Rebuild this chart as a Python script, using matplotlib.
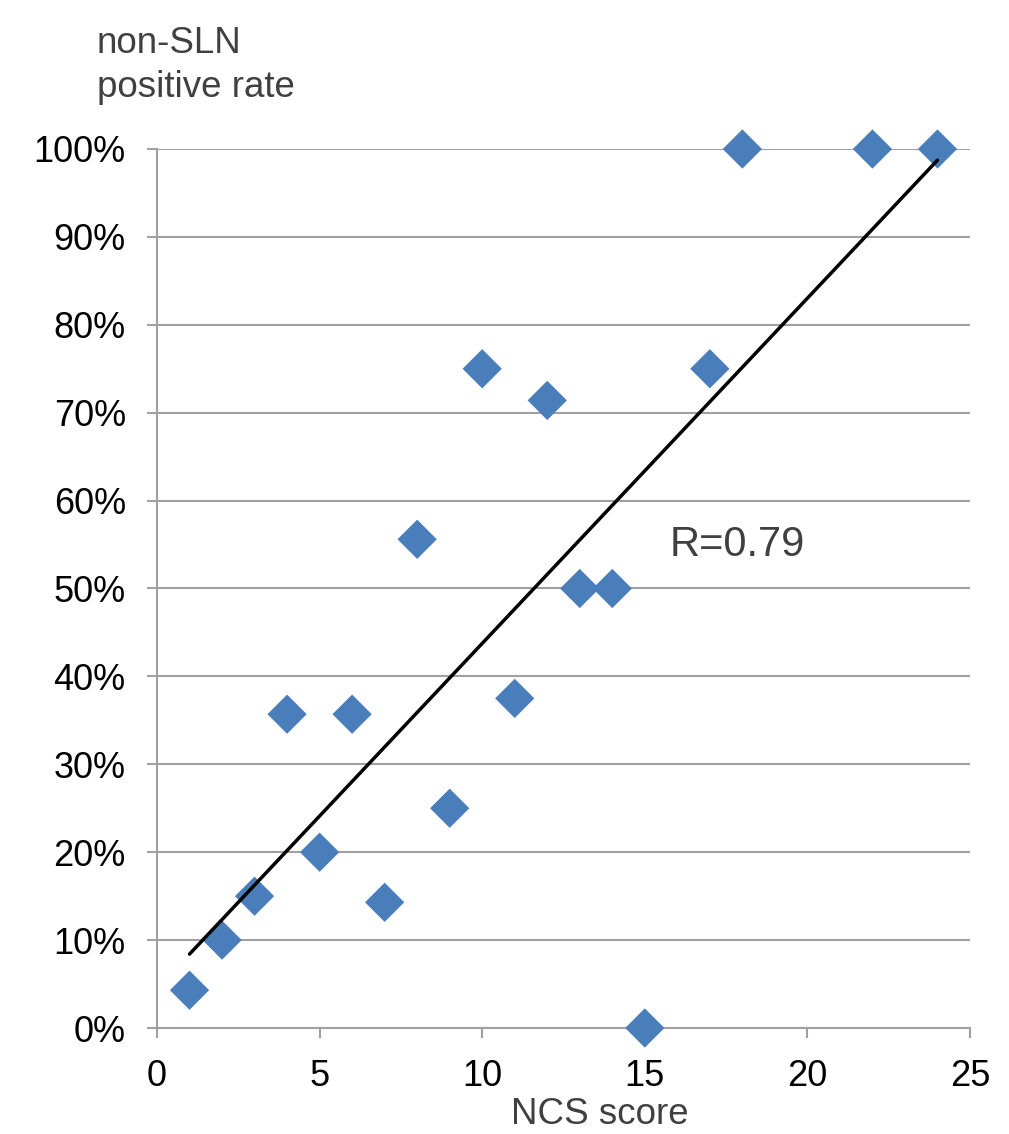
import numpy as np
import matplotlib
matplotlib.use("Agg")
import matplotlib.pyplot as plt
from matplotlib.ticker import FuncFormatter, MultipleLocator

plt.rcParams['font.family'] = ['Liberation Sans', 'DejaVu Sans']

ncs_score = [1, 2, 3, 4, 5, 6, 7, 8, 9, 10, 11, 12, 13, 14, 15, 17, 18, 22, 24]
positive_rate = [0.043, 0.10, 0.15, 0.357, 0.20, 0.357, 0.143, 0.556, 0.25, 0.75,
                 0.375, 0.714, 0.50, 0.50, 0.0, 0.75, 1.0, 1.0, 1.0]
r_text = "R=0.79"
ylabel_lines = ["non-SLN", "positive rate"]
xlabel = "NCS score"

fig = plt.figure(figsize=(10.09, 11.34), dpi=100)
W, H = 1009, 1134
ax = fig.add_axes([157 / W, 1 - 1028 / H, (970 - 157) / W, (1028 - 149) / H])

grid_c = '#a0a0a0'
ax.set_xlim(0, 25)
ax.set_ylim(0, 1.0)
ax.yaxis.set_major_locator(MultipleLocator(0.1))
ax.xaxis.set_major_locator(MultipleLocator(5))
ax.yaxis.set_major_formatter(FuncFormatter(lambda v, p: f"{v*100:.0f}%"))
ax.grid(axis='y', color=grid_c, linewidth=1.5, zorder=0)
ax.set_axisbelow(True)
for s in ['top', 'right']:
    ax.spines[s].set_visible(False)
for s in ['left', 'bottom']:
    ax.spines[s].set_color(grid_c)
    ax.spines[s].set_linewidth(1.5)
ax.tick_params(axis='both', colors=grid_c, labelcolor='black', labelsize=26,
               length=7.5, width=1.5, direction='out')
ax.tick_params(axis='y', pad=15)
ax.tick_params(axis='x', pad=15)

ax.scatter(ncs_score, positive_rate, marker='D', s=20**2, color='#4A7EBB',
           edgecolors='none', zorder=3, clip_on=False)

x = np.array(ncs_score, dtype=float)
y = np.array(positive_rate)
m, b = np.polyfit(x, y, 1)
xs = np.array([x.min(), x.max()])
ax.plot(xs, m * xs + b, color='black', linewidth=2.5, zorder=4, solid_capstyle='round')

ax.text(15.75, 0.55, r_text, fontsize=30, color='#404040', va='center', ha='left')

fig.text(97 / W, 1 - 53 / H, ylabel_lines[0], fontsize=26.5, color='#404040',
         ha='left', va='baseline')
fig.text(97 / W, 1 - 97 / H, ylabel_lines[1], fontsize=26.5, color='#404040',
         ha='left', va='baseline')
fig.text(600 / W, 1 - 1124 / H, xlabel, fontsize=26.5, color='#404040',
         ha='center', va='baseline')

fig.savefig("out.png", dpi=100)
